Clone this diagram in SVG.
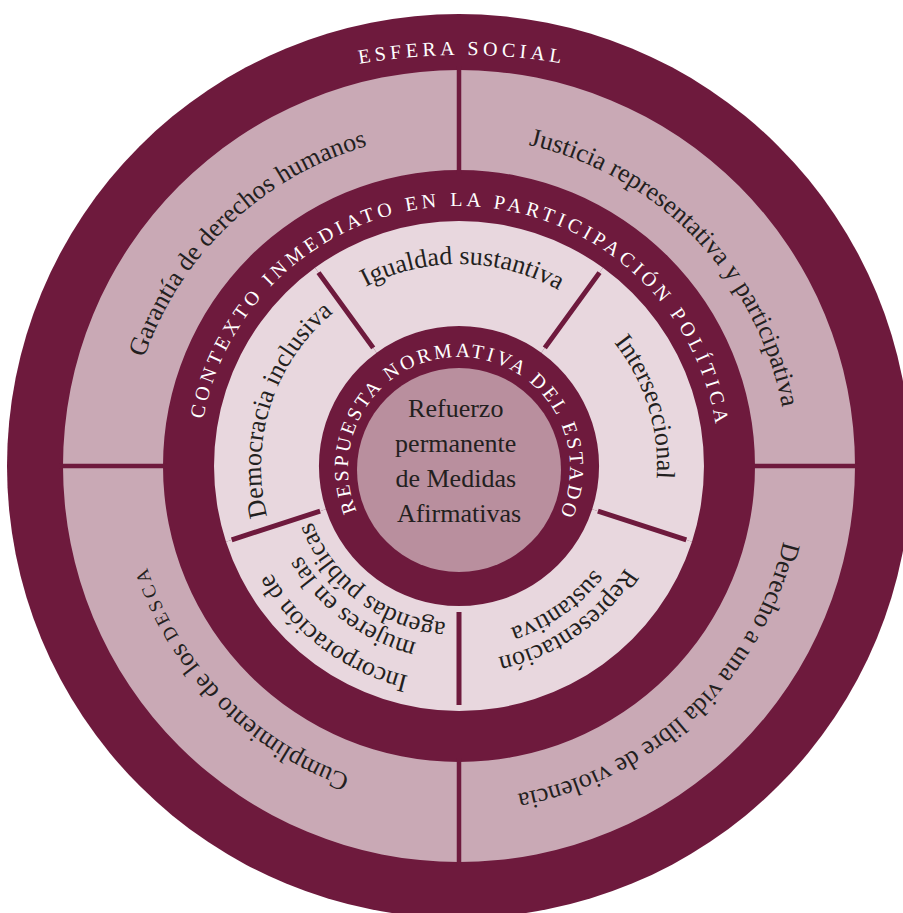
<svg xmlns="http://www.w3.org/2000/svg" width="903" height="913" viewBox="0 0 903 913">
<defs>
<style>
.dark{fill:#6e1a3d}
.ring{fill:#c9a9b5}
.sec{fill:#e8d7de}
.disk{fill:#b98f9e}
.lbl{font-family:"Liberation Serif","Times New Roman",serif;font-size:26px;fill:#231f20}
.cap{font-family:"Liberation Serif","Times New Roman",serif;fill:#ffffff}
.div{stroke:#6e1a3d;fill:none}
</style>
<path id="pEsfera" d="M162,135.4 A600,600 0 0 1 762,135.4"/>
<path id="pContexto" d="M231.6,592.1 A260,260 0 1 1 681.9,599.9"/>
<path id="pRespuesta" d="M401.0,562.6 A111,111 0 1 1 512.0,565.5"/>
<path id="pGarantia" d="M217.4,695.2 A333,333 0 0 1 700.6,236.8"/>
<path id="pJusticia" d="M227.7,226.5 A333,333 0 0 1 690.3,705.5"/>
<path id="pDerecho" d="M700.6,236.8 A333,333 0 0 1 217.4,695.2"/>
<path id="pCumpl" d="M690.3,705.5 A333,333 0 0 1 227.7,226.5"/>
<path id="pIgualdad" d="M257.0,462.5 A202,202 0 0 1 661.0,469.5"/>
<path id="pInter" d="M399.2,276.2 A199,199 0 0 1 518.8,655.8"/>
<path id="pDemo" d="M397.2,656.2 A200,200 0 0 1 520.8,275.8"/>
<path id="pRep1" d="M618.7,354.1 A195,195 0 0 1 299.3,577.9"/>
<path id="pRep2" d="M598.3,368.5 A170,170 0 0 1 319.7,563.5"/>
<path id="pInc1" d="M631.5,596.0 A216,216 0 0 1 286.5,336.0"/>
<path id="pInc2" d="M607.5,577.9 A186,186 0 0 1 310.5,354.1"/>
<path id="pInc3" d="M584.4,560.5 A157,157 0 0 1 333.6,371.5"/>
</defs>

<g id="esfera-social">
<circle class="dark" cx="459" cy="466" r="452"/>
<text class="cap" font-size="20" letter-spacing="4.3"><textPath href="#pEsfera" startOffset="50%" text-anchor="middle">ESFERA SOCIAL</textPath></text>
</g>

<g id="garantia">
<path class="ring" d="M63,466 A396,396 0 0 1 459,70 L459,170 A296,296 0 0 0 163,466 Z"/>
<text class="lbl"><textPath href="#pGarantia" startOffset="50%" text-anchor="middle">Garantía de derechos humanos</textPath></text>
</g>

<g id="justicia">
<path class="ring" d="M459,70 A396,396 0 0 1 855,466 L755,466 A296,296 0 0 0 459,170 Z"/>
<text class="lbl"><textPath href="#pJusticia" startOffset="50%" text-anchor="middle">Justicia representativa y participativa</textPath></text>
</g>

<g id="derecho">
<path class="ring" d="M855,466 A396,396 0 0 1 459,862 L459,762 A296,296 0 0 0 755,466 Z"/>
<text class="lbl"><textPath href="#pDerecho" startOffset="50%" text-anchor="middle">Derecho a una vida libre de violencia</textPath></text>
</g>

<g id="cumplimiento">
<path class="ring" d="M459,862 A396,396 0 0 1 63,466 L163,466 A296,296 0 0 0 459,762 Z"/>
<text class="lbl"><textPath href="#pCumpl" startOffset="50%" text-anchor="middle">Cumplimiento de los <tspan font-size="19" letter-spacing="3.5">DESCA</tspan></textPath></text>
</g>

<g id="contexto">
<text class="cap" font-size="20" letter-spacing="4.2"><textPath href="#pContexto" startOffset="50%" text-anchor="middle">CONTEXTO INMEDIATO EN LA PARTICIPACIÓN POLÍTICA</textPath></text>
</g>

<g id="igualdad">
<path class="sec" d="M315.0,267.8 A245,245 0 0 1 603.0,267.8 L541.3,352.7 A140,140 0 0 0 376.7,352.7 Z"/>
<text class="lbl"><textPath href="#pIgualdad" startOffset="50%" text-anchor="middle">Igualdad sustantiva</textPath></text>
</g>

<g id="interseccional">
<path class="sec" d="M603.0,267.8 A245,245 0 0 1 692.0,541.7 L592.2,509.3 A140,140 0 0 0 541.3,352.7 Z"/>
<text class="lbl"><textPath href="#pInter" startOffset="50%" text-anchor="middle">Interseccional</textPath></text>
</g>

<g id="representacion">
<path class="sec" d="M692.0,541.7 A245,245 0 0 1 459,711 L459,606 A140,140 0 0 0 592.2,509.3 Z"/>
<text class="lbl"><textPath href="#pRep1" startOffset="50%" text-anchor="middle">Representación</textPath></text>
<text class="lbl"><textPath href="#pRep2" startOffset="50%" text-anchor="middle">sustantiva</textPath></text>
</g>

<g id="incorporacion">
<path class="sec" d="M459,711 A245,245 0 0 1 226.0,541.7 L325.8,509.3 A140,140 0 0 0 459,606 Z"/>
<text class="lbl"><textPath href="#pInc1" startOffset="50%" text-anchor="middle">Incorporación de</textPath></text>
<text class="lbl"><textPath href="#pInc2" startOffset="50%" text-anchor="middle">mujeres en las</textPath></text>
<text class="lbl"><textPath href="#pInc3" startOffset="50%" text-anchor="middle">agendas públicas</textPath></text>
</g>

<g id="democracia">
<path class="sec" d="M226.0,541.7 A245,245 0 0 1 315.0,267.8 L376.7,352.7 A140,140 0 0 0 325.8,509.3 Z"/>
<text class="lbl" font-size="25"><textPath href="#pDemo" startOffset="50%" text-anchor="middle">Democracia inclusiva</textPath></text>
</g>

<g id="connectors">
<path class="div" stroke-width="4.5" d="M459,66 V174 M459,758 V866 M59,466 H167 M751,466 H859"/>
<path class="div" stroke-width="5" d="M318.5,272.6 L373.2,347.9 M599.5,272.6 L544.8,347.9 M686.3,539.8 L597.9,511.1 M231.7,539.8 L320.1,511.1 M459,705 V612"/>
</g>

<g id="respuesta">
<text class="cap" font-size="20" letter-spacing="2.9"><textPath href="#pRespuesta" startOffset="50%" text-anchor="middle">RESPUESTA NORMATIVA DEL ESTADO</textPath></text>
</g>

<g id="refuerzo">
<circle class="disk" cx="459" cy="470" r="102"/>
<text class="lbl" text-anchor="middle" x="459">
<tspan x="459" y="417">Refuerzo</tspan>
<tspan x="459" y="452">permanente</tspan>
<tspan x="459" y="487">de Medidas</tspan>
<tspan x="459" y="522">Afirmativas</tspan>
</text>
</g>
</svg>
